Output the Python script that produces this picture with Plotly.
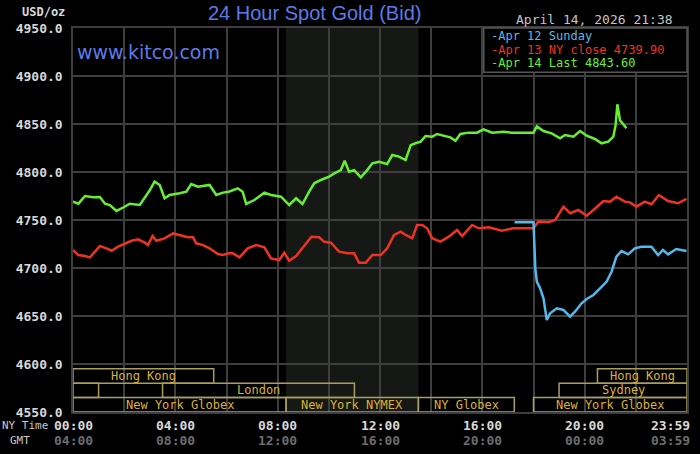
import plotly.graph_objects as go

# time of day in hours (NY time), prices in USD/oz
green_t = [0.0, 0.21, 0.47, 0.79, 1.05, 1.25, 1.44, 1.70, 1.96, 2.22,
           2.61, 3.00, 3.19, 3.39, 3.58, 3.78, 4.17, 4.43, 4.62, 4.88,
           5.34, 5.60, 5.86, 6.09, 6.44, 6.63, 6.77, 7.09, 7.48, 7.74,
           8.13, 8.45, 8.72, 8.97, 9.23, 9.43, 9.69, 10.01, 10.21, 10.47,
           10.62, 10.79, 10.99, 11.25, 11.50, 11.70, 11.96, 12.28, 12.48, 12.74,
           13.00, 13.20, 13.39, 13.59, 13.78, 14.04, 14.23, 14.49, 14.75, 14.95,
           15.14, 15.47, 15.79, 16.05, 16.38, 16.83, 17.15, 18.00, 18.13, 18.39,
           18.71, 19.04, 19.23, 19.56, 19.82, 20.08, 20.40, 20.66, 20.92, 21.12,
           21.21, 21.28, 21.38, 21.51, 21.63]
green_v = [4769, 4767, 4775, 4773.6, 4774, 4767, 4765.6, 4759.4, 4763, 4767,
           4765.6, 4781, 4790, 4786.5, 4772.6, 4776, 4777.8, 4779.5, 4787.5, 4784.7,
           4786.5, 4776, 4778.5, 4779.5, 4783, 4779.5, 4766.7, 4770.8, 4778.5, 4776,
           4774.3, 4765.6, 4772.6, 4766.7, 4779.5, 4788.2, 4791.7, 4795.1, 4798.6, 4802,
           4811.8, 4800.4, 4802, 4794.5, 4802, 4809, 4810.7, 4808.3, 4817.7, 4816,
           4812.5, 4828, 4829.9, 4831.6, 4837.5, 4836.8, 4839.6, 4837.5, 4836.1, 4832.6,
           4839.6, 4841, 4841, 4844.5, 4841, 4842, 4841, 4841, 4847.5, 4842.7,
           4840.3, 4835.1, 4838.5, 4836.8, 4842.7, 4837.8, 4834.4, 4829.9, 4831.6, 4836.8,
           4849, 4870.5, 4854, 4849.7, 4845.5]

red_t = [0.0, 0.21, 0.47, 0.66, 0.86, 1.05, 1.31, 1.51, 1.76, 2.03,
         2.29, 2.54, 2.81, 2.93, 3.11, 3.26, 3.58, 3.91, 4.17, 4.49,
         4.69, 4.82, 5.08, 5.34, 5.66, 5.86, 6.09, 6.25, 6.51, 6.83,
         7.16, 7.48, 7.74, 8.06, 8.26, 8.45, 8.72, 9.04, 9.32, 9.62,
         9.82, 10.08, 10.40, 10.73, 10.99, 11.18, 11.44, 11.70, 12.03, 12.28,
         12.55, 12.81, 13.00, 13.26, 13.45, 13.65, 13.84, 14.04, 14.36, 14.69,
         15.01, 15.21, 15.60, 15.86, 16.25, 16.76, 17.22, 18.00, 18.19, 18.58,
         18.85, 19.17, 19.43, 19.75, 20.08, 20.34, 20.73, 20.99, 21.24, 21.57,
         21.77, 22.02, 22.35, 22.61, 22.90, 23.26, 23.65, 23.98]
red_v = [4718.8, 4713.5, 4712.5, 4711.1, 4717, 4722.9, 4720.5, 4718, 4722.2, 4725.7,
         4728.4, 4729.9, 4726.4, 4723.9, 4733.3, 4728.4, 4730.9, 4736, 4734.4, 4732,
         4732, 4725.7, 4723.9, 4720.5, 4714.6, 4713.5, 4715.3, 4715.3, 4711.1, 4720.5,
         4723.9, 4721.5, 4710, 4708.3, 4715.9, 4707.6, 4712.5, 4723.9, 4732.6, 4732,
         4727.4, 4726.4, 4717, 4715.3, 4715.3, 4705.5, 4705.5, 4713.5, 4713.5, 4720.5,
         4734.4, 4737.8, 4734.4, 4730.9, 4744.8, 4744.8, 4741.4, 4730.9, 4727.4, 4732.6,
         4739.6, 4733.3, 4744.8, 4741.4, 4742.4, 4738.9, 4741.4, 4741.4, 4748.3, 4747.6,
         4750, 4763.9, 4757, 4760.4, 4754.5, 4760.4, 4769.8, 4769.1, 4774.3, 4769.1,
         4768.4, 4763.9, 4769.1, 4766.4, 4776, 4769.8, 4767.4, 4771.9]

blue_t = [17.26, 18.00, 18.03, 18.07, 18.13, 18.26, 18.39, 18.52, 18.65, 18.91,
          19.17, 19.43, 19.62, 19.88, 20.08, 20.34, 20.60, 20.86, 21.05, 21.24,
          21.44, 21.70, 21.96, 22.22, 22.61, 22.87, 23.06, 23.26, 23.58, 23.98]
blue_v = [4747.6, 4747.6, 4727.4, 4699.7, 4685.8, 4678.8, 4668.4, 4645.8, 4652.8, 4658,
          4656.3, 4649.3, 4654.5, 4663.2, 4667.7, 4671.9, 4678.8, 4685.8, 4696.1, 4711.8,
          4717.7, 4714.2, 4720.5, 4722.2, 4722.2, 4713.5, 4718.8, 4714.2, 4719.8, 4717.7]

legend_labels = ["Apr 12 Sunday", "Apr 13 NY close 4739.90", "Apr 14 Last 4843.60"]

# trading sessions (hours, NY time) and their row in the strip at the bottom
session_names = ["Hong Kong", "Hong Kong", "Sydney", "London", "Sydney",
                 "New York Globex", "New York NYMEX", "NY Globex", "New York Globex"]
session_start = [0, 20.5, 0, 3.5, 19.0, 0, 8.33, 13.5, 18.0]
session_end = [5.5, 24, 1.0, 11.0, 24, 8.33, 13.5, 17.25, 24]
session_row = [0, 0, 1, 1, 1, 2, 2, 2, 2]

ny_ticks = [0, 4, 8, 12, 16, 20, 24]
ny_labels = ["00:00", "04:00", "08:00", "12:00", "16:00", "20:00", "23:59"]
gmt_labels = ["04:00", "08:00", "12:00", "16:00", "20:00", "00:00", "03:59"]

BLUE = "#55b8ea"
RED = "#ee3322"
GREEN = "#66ee33"
TITLE_BLUE = "#5b7be8"
MONO = "DejaVu Sans Mono"
GRID = "#3e3e3e"

fig = go.Figure()

for t, v, c in [(red_t, red_v, RED), (blue_t, blue_v, BLUE), (green_t, green_v, GREEN)]:
    fig.add_trace(go.Scatter(x=t, y=v, mode="lines", line=dict(color=c, width=2.5),
                             showlegend=False, hoverinfo="skip"))

shapes = []
# NYMEX pit hours shading
shapes.append(dict(type="rect", xref="x", yref="paper", x0=8.33, x1=13.5, y0=0, y1=1,
                   fillcolor="#161816", line=dict(width=0), layer="below"))

annotations = []
row_top = [4595, 4580, 4565]
for name, s, e, r in zip(session_names, session_start, session_end, session_row):
    shapes.append(dict(type="rect", xref="x", yref="y", x0=s, x1=e,
                       y0=row_top[r] - 15, y1=row_top[r],
                       line=dict(color="#a89e62", width=1.5), fillcolor="rgba(0,0,0,0)"))
    if e - s > 2:
        annotations.append(dict(x=(s + e) / 2, y=row_top[r] - 7.5, xref="x", yref="y",
                                text=name, showarrow=False,
                                font=dict(family=MONO, size=12, color="#dcb232")))

# legend box
shapes.append(dict(type="rect", xref="paper", yref="paper", x0=0.669, x1=1.0, y0=0.885, y1=1.0,
                   fillcolor="#000000", line=dict(color="#555555", width=1.5)))
for i, (lab, c) in enumerate(zip(legend_labels, [BLUE, RED, GREEN])):
    annotations.append(dict(x=0.677, y=0.98 - i * 0.036, xref="paper", yref="paper",
                            xanchor="left", yanchor="middle", text="-" + lab, showarrow=False,
                            font=dict(family=MONO, size=12, color=c)))

# x labels: NY time and GMT rows
for t, a, b in zip(ny_ticks, ny_labels, gmt_labels):
    anchor = "right" if t == 24 else "center"
    shift = 5 if t == 24 else 0
    annotations.append(dict(x=t, y=-0.036, xref="x", yref="paper", text=a, showarrow=False,
                            xanchor=anchor, xshift=shift, yanchor="middle",
                            font=dict(family=MONO, size=13, color="#d8d8d8", weight="bold")))
    annotations.append(dict(x=t, y=-0.073, xref="x", yref="paper", text=b, showarrow=False,
                            xanchor=anchor, xshift=shift, yanchor="middle",
                            font=dict(family=MONO, size=13, color="#6c6c6c", weight="bold")))

annotations += [
    dict(x=-0.1185, y=-0.036, xref="paper", yref="paper", xanchor="left", yanchor="middle",
         text="NY Time", showarrow=False, font=dict(family=MONO, size=11, color="#c8c8c8")),
    dict(x=-0.086, y=-0.073, xref="paper", yref="paper", xanchor="center", yanchor="middle",
         text="GMT", showarrow=False, font=dict(family=MONO, size=11, color="#c8c8c8")),
    dict(x=-0.01, y=1.042, xref="paper", yref="paper", xanchor="right", yanchor="middle",
         text="USD/oz", showarrow=False, font=dict(family=MONO, size=12, color="#d8d8d8", weight="bold")),
    dict(x=0.98, y=1.021, xref="paper", yref="paper", xanchor="right", yanchor="middle",
         text="April 14, 2026 21:38", showarrow=False, font=dict(family=MONO, size=13, color="#c4c4c4")),
    dict(x=0.003, y=0.937, xref="paper", yref="paper", xanchor="left", yanchor="middle",
         text="www.kitco.com", showarrow=False, font=dict(family="DejaVu Sans", size=19, color=TITLE_BLUE)),
    dict(x=0.393, y=1.04, xref="paper", yref="paper", xanchor="center", yanchor="middle",
         text="24 Hour Spot Gold (Bid)", showarrow=False,
         font=dict(family="Liberation Sans", size=20, color=TITLE_BLUE)),
]

fig.update_layout(
    width=700, height=454,
    margin=dict(l=73, r=11, t=28, b=42),
    paper_bgcolor="#000000",
    plot_bgcolor="#000000",
    shapes=shapes,
    annotations=annotations,
    xaxis=dict(range=[0, 24], dtick=2, tick0=0, showticklabels=False, showgrid=True,
               gridcolor=GRID, gridwidth=1.5, zeroline=False, showline=True, mirror=True,
               linecolor=GRID, linewidth=1.5, ticks=""),
    yaxis=dict(range=[4550, 4950], dtick=50, tick0=4550, tickformat=".1f", showgrid=True,
               gridcolor=GRID, gridwidth=1.5, zeroline=False, showline=True, mirror=True,
               linecolor=GRID, linewidth=1.5, ticks="", ticklabelstandoff=6,
               tickfont=dict(family=MONO, size=13, color="#d8d8d8", weight="bold")),
)

fig.write_html("out.html", config={"displayModeBar": False},
               post_script="document.body.style.margin='0px';document.body.style.background='#000';")
